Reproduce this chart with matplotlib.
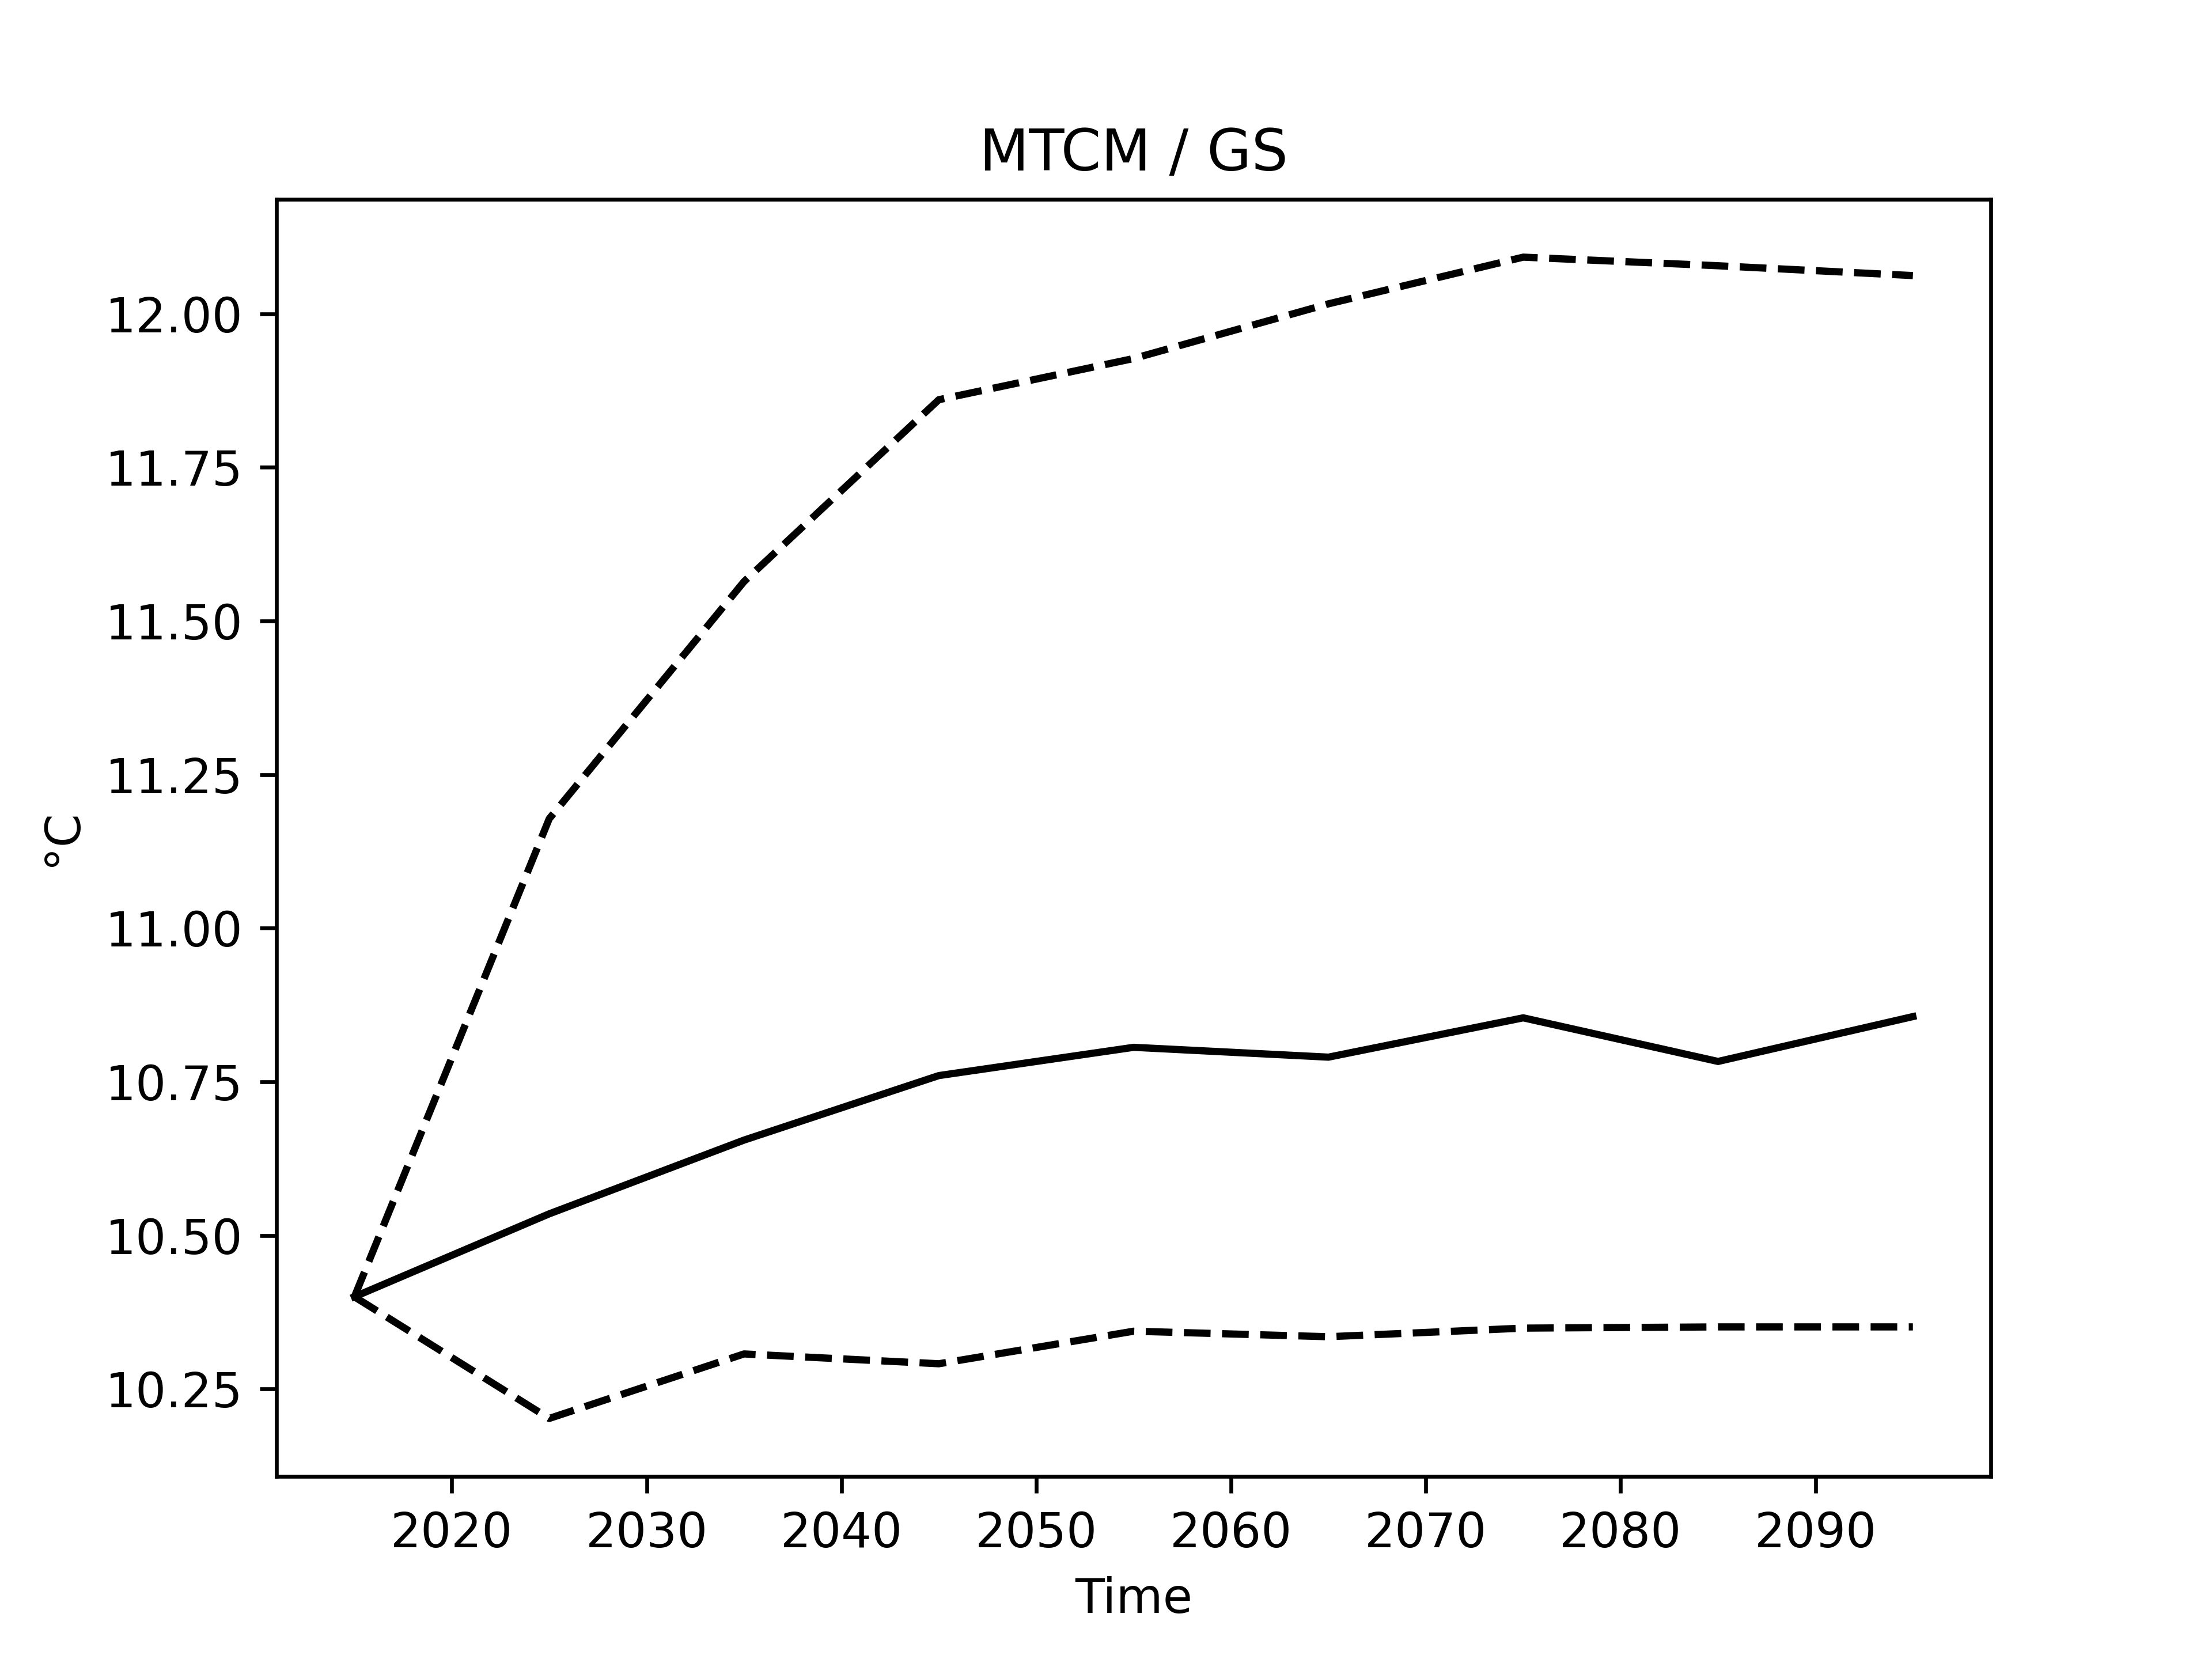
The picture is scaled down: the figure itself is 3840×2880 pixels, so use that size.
import matplotlib
matplotlib.use("Agg")
import matplotlib.pyplot as plt

# -------------------------------------------------
# Data
# -------------------------------------------------

years = [2015, 2025, 2035, 2045, 2055, 2065, 2075, 2085, 2095]

mean_vals = [10.40, 10.535, 10.655, 10.76, 10.806, 10.79, 10.854, 10.783, 10.856]
upper_vals = [10.40, 11.178, 11.564, 11.86, 11.927, 12.016, 12.092, 12.078, 12.062]
lower_vals = [10.40, 10.202, 10.307, 10.291, 10.344, 10.335, 10.349, 10.351, 10.351]


def main():

    fig, ax = plt.subplots(figsize=(6.4, 4.8))

    ax.plot(years, mean_vals, color="black", lw=1.5)
    ax.plot(years, upper_vals, color="black", lw=1.5, linestyle="--")
    ax.plot(years, lower_vals, color="black", lw=1.5, linestyle="--")

    ax.set_title("MTCM / GS")
    ax.set_xlabel("Time")
    ax.set_ylabel("°C")

    fig.savefig("out.png", dpi=600)
    plt.close(fig)


if __name__ == "__main__":
    main()
